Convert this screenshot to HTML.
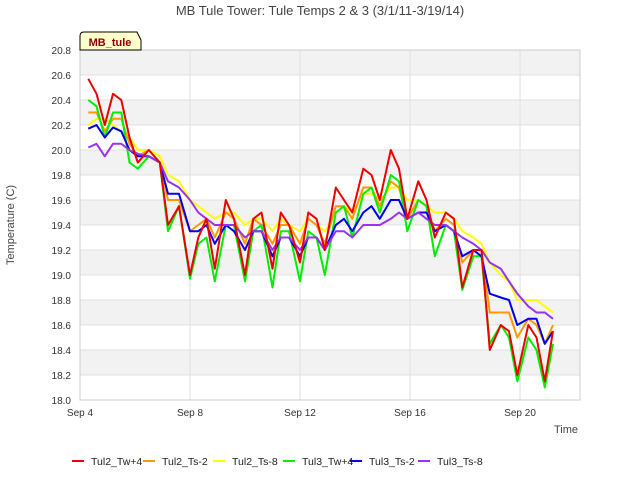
<!DOCTYPE html>
<html><head><meta charset="utf-8"><style>
body{margin:0;background:#fff;font-family:"Liberation Sans",sans-serif;}
svg text{font-family:"Liberation Sans",sans-serif;}
</style></head><body>
<svg id="chart" width="640" height="480">
<rect x="0" y="0" width="640" height="480" fill="#fff"/>
<text x="320" y="15" text-anchor="middle" font-size="13" fill="#444">MB Tule Tower: Tule Temps 2 &amp; 3 (3/1/11-3/19/14)</text>
<g id="bands"></g><g id="grid"></g><g id="series"></g><g id="axes"></g>
<text x="14" y="225" transform="rotate(-90 14 225)" text-anchor="middle" font-size="11" fill="#444">Temperature (C)</text>
<text x="578" y="433" text-anchor="end" font-size="11" fill="#444">Time</text>
<g>
<path d="M80,50 L80,36 Q80,32 84,32 L137,32 L141,40 L141,50 Z" fill="#ffffcc" stroke="#000" stroke-width="1"/>
<text x="110" y="46" text-anchor="middle" font-size="11" font-weight="bold" fill="#8b0000">MB_tule</text>
</g>
<g id="legend"></g>
</svg>
<script>
const times=[4.3,4.6,4.9,5.2,5.5,5.8,6.1,6.5,6.9,7.2,7.6,8.0,8.3,8.6,8.9,9.3,9.6,10.0,10.3,10.6,11.0,11.3,11.6,12.0,12.3,12.6,12.9,13.3,13.6,13.9,14.3,14.6,14.9,15.3,15.6,15.9,16.3,16.6,16.9,17.3,17.6,17.9,18.3,18.6,18.9,19.3,19.6,19.9,20.3,20.6,20.9,21.2];
const tul2Tw4=[20.57,20.45,20.2,20.45,20.4,20.1,19.9,20.0,19.9,19.4,19.55,19.0,19.3,19.45,19.05,19.6,19.45,19.0,19.45,19.5,19.05,19.5,19.4,19.1,19.5,19.45,19.2,19.7,19.6,19.5,19.85,19.8,19.6,20.0,19.85,19.45,19.75,19.6,19.3,19.5,19.45,18.9,19.2,19.2,18.4,18.6,18.55,18.2,18.6,18.5,18.15,18.55];
const tul2Ts2=[20.3,20.3,20.15,20.25,20.25,20.05,19.95,20.0,19.9,19.6,19.6,19.35,19.4,19.45,19.3,19.5,19.45,19.25,19.45,19.4,19.25,19.4,19.4,19.25,19.45,19.4,19.25,19.55,19.55,19.45,19.7,19.7,19.55,19.75,19.7,19.45,19.6,19.55,19.35,19.45,19.4,19.1,19.2,19.2,18.7,18.7,18.7,18.5,18.65,18.6,18.45,18.6];
const tul2Ts8=[20.2,20.25,20.25,20.2,20.15,20.1,20.0,20.0,19.95,19.8,19.75,19.6,19.55,19.5,19.45,19.5,19.5,19.4,19.45,19.45,19.35,19.45,19.4,19.35,19.45,19.4,19.35,19.5,19.55,19.5,19.65,19.65,19.6,19.7,19.7,19.6,19.6,19.55,19.5,19.5,19.45,19.35,19.3,19.25,19.1,19.0,18.95,18.8,18.8,18.8,18.75,18.7];
const tul3Tw4=[20.4,20.35,20.1,20.3,20.3,19.9,19.85,19.95,19.9,19.35,19.55,18.97,19.25,19.3,18.95,19.4,19.4,18.95,19.35,19.4,18.9,19.35,19.35,18.95,19.35,19.3,19.0,19.5,19.55,19.3,19.65,19.7,19.5,19.8,19.75,19.35,19.6,19.55,19.15,19.4,19.35,18.88,19.15,19.15,18.45,18.6,18.5,18.15,18.5,18.4,18.1,18.45];
const tul3Ts2=[20.17,20.2,20.1,20.18,20.15,20.0,19.95,19.95,19.9,19.65,19.65,19.35,19.35,19.4,19.25,19.4,19.35,19.2,19.35,19.35,19.15,19.3,19.3,19.15,19.3,19.3,19.2,19.4,19.45,19.35,19.5,19.55,19.45,19.6,19.6,19.45,19.5,19.5,19.35,19.4,19.35,19.15,19.2,19.15,18.85,18.82,18.8,18.6,18.65,18.65,18.45,18.55];
const tul3Ts8=[20.02,20.05,19.95,20.05,20.05,20.0,19.97,19.95,19.9,19.75,19.7,19.6,19.5,19.45,19.4,19.4,19.4,19.3,19.35,19.35,19.2,19.3,19.3,19.2,19.3,19.3,19.2,19.35,19.35,19.3,19.4,19.4,19.4,19.45,19.5,19.45,19.5,19.45,19.4,19.4,19.35,19.3,19.25,19.2,19.1,19.05,18.95,18.85,18.75,18.7,18.7,18.65];
const seriesNames=["Tul2_Tw+4","Tul2_Ts-2","Tul2_Ts-8","Tul3_Tw+4","Tul3_Ts-2","Tul3_Ts-8"];
const seriesColors=["#ee0000","#ff9900","#ffff00","#00ee00","#0000ee","#9933ee"];
const yTicks=[18.0,18.2,18.4,18.6,18.8,19.0,19.2,19.4,19.6,19.8,20.0,20.2,20.4,20.6,20.8];
const xTicks=[4,8,12,16,20];
const xTickLabels=["Sep 4","Sep 8","Sep 12","Sep 16","Sep 20"];

const NS="http://www.w3.org/2000/svg";
const L=80,R=580,T=50,B=400;
const yMin=18.0,yMax=20.8,xMin=4,xMax=22.18;
const xs=t=>L+(t-xMin)/(xMax-xMin)*(R-L);
const ys=v=>B-(v-yMin)/(yMax-yMin)*(B-T);
function mk(tag,attrs,parent){const e=document.createElementNS(NS,tag);for(const k in attrs)e.setAttribute(k,attrs[k]);parent.appendChild(e);return e;}
const bands=document.getElementById('bands'),grid=document.getElementById('grid'),axes=document.getElementById('axes'),ser=document.getElementById('series'),leg=document.getElementById('legend');
for(let i=0;i<yTicks.length-1;i++){
  if(i%2===1){const r=mk('rect',{x:L,y:ys(yTicks[i+1]),width:R-L,height:ys(yTicks[i])-ys(yTicks[i+1]),fill:'#f2f2f2'},bands);
  
  }
}
yTicks.forEach(v=>{
  const y=ys(v);
  const ln=mk('line',{x1:L,x2:R,y1:y,y2:y,stroke:'#e0e0e0','stroke-width':1},grid);
  
  
  const tx=mk('text',{x:L-9,y:y+4,'text-anchor':'end','font-size':10,fill:'#333'},axes);
  tx.textContent=v.toFixed(1);
  
  
});
xTicks.forEach((t,i)=>{
  const x=xs(t);
  const ln=mk('line',{x1:x,x2:x,y1:T,y2:B,stroke:'#e0e0e0','stroke-width':1},grid);
  
  
  const tx=mk('text',{x:x,y:B+16,'text-anchor':'middle','font-size':10,fill:'#333'},axes);
  tx.textContent=xTickLabels[i];
  
  
});
const frame=mk('rect',{x:L,y:T,width:R-L,height:B-T,fill:'none',stroke:'#ccc'},axes);


const data=[tul2Tw4,tul2Ts2,tul2Ts8,tul3Tw4,tul3Ts2,tul3Ts8];
[2,1,3,4,5,0].forEach(k=>{
  const pts=times.map((t,i)=>xs(t).toFixed(1)+','+ys(data[k][i]).toFixed(1)).join(' ');
  const p=mk('polyline',{points:pts,fill:'none',stroke:seriesColors[k],'stroke-width':2,'stroke-linejoin':'round'},ser);
  
  
});
const legX=[72,143,213,283,350,418];
seriesNames.forEach((n,i)=>{
  const g=mk('g',{},leg);
  
  
  mk('line',{x1:legX[i],x2:legX[i]+12,y1:461,y2:461,stroke:seriesColors[i],'stroke-width':2},g);
  const tx=mk('text',{x:legX[i]+19,y:465,'font-size':10.5,fill:'#222'},g);
  tx.textContent=n;
});
</script>
</body></html>
